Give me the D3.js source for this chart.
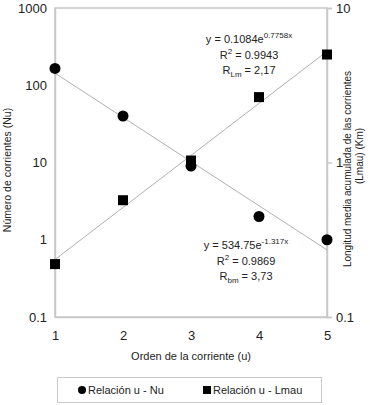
<!DOCTYPE html>
<html>
<head>
<script src="https://cdn.jsdelivr.net/npm/d3@7"></script>
<style type="text/css">
  body{
    margin: 0;
    background: white;
    font-family: 'Liberation Sans', Arial, sans-serif;
  }
  text{ fill: #222; }
</style>
</head>
<body>
<svg id="chart" width="370" height="405"></svg>
<script>

// orden de la corriente
var orders = [1, 2, 3, 4, 5];
// numero de corrientes (eje izquierdo)
var nu = [165, 40, 9, 2, 1];
// longitud media acumulada (eje derecho)
var lmau = [0.22, 0.57, 1.03, 2.65, 5.0];

var leftTicks = [0.1, 1, 10, 100, 1000];
var rightTicks = [0.1, 1, 10];

// ajustes exponenciales mostrados
var fitL = {a: 0.1084, b: 0.7758};
var fitN = {a: 534.75, b: -1.317};

var svg = d3.select("#chart");

var pLeft = 55, pRight = 327, pTop = 8, pBottom = 317;

var x = d3.scaleLinear().domain([1, 5]).range([pLeft, pRight]);
var yL = d3.scaleLog().domain([0.1, 1000]).range([pBottom, pTop]);
var yR = d3.scaleLog().domain([0.1, 10]).range([pBottom, pTop]);

// marco
svg.append("rect")
  .attr("x", pLeft).attr("y", pTop)
  .attr("width", pRight - pLeft).attr("height", pBottom - pTop)
  .attr("fill", "none")
  .attr("stroke", "#c8c8c8")
  .attr("stroke-width", 1.5);

var fmt = function(d) { return d < 1 ? d3.format(".1f")(d) : d3.format("d")(d); };

var axL = svg.append("g")
  .attr("transform", "translate(" + pLeft + ",0)")
  .call(d3.axisLeft(yL).tickValues(leftTicks).tickFormat(fmt).tickSize(0).tickPadding(8));
var axR = svg.append("g")
  .attr("transform", "translate(" + pRight + ",0)")
  .call(d3.axisRight(yR).tickValues(rightTicks).tickFormat(fmt).tickSize(5).tickPadding(4));
var axB = svg.append("g")
  .attr("transform", "translate(0," + pBottom + ")")
  .call(d3.axisBottom(x).tickValues(orders).tickFormat(d3.format("d")).tickSize(0).tickPadding(14));

[axL, axR, axB].forEach(function(a) {
  a.select(".domain").attr("stroke", "#c8c8c8").attr("stroke-width", 1.5);
  a.selectAll(".tick line").attr("stroke", "#c8c8c8").attr("stroke-width", 1.5);
  a.selectAll("text").attr("font-size", 13).attr("font-family", "'Liberation Sans', Arial, sans-serif").attr("fill", "#222");
});

// lineas de tendencia
var trendL = orders.map(function(u) { return [u, fitL.a * Math.exp(fitL.b * u)]; });
var trendN = orders.map(function(u) { return [u, fitN.a * Math.exp(fitN.b * u)]; });

svg.append("path")
  .datum(trendN)
  .attr("fill", "none").attr("stroke", "#b0b0b0").attr("stroke-width", 1)
  .attr("d", d3.line().x(function(d) { return x(d[0]); }).y(function(d) { return yL(d[1]); }));
svg.append("path")
  .datum(trendL)
  .attr("fill", "none").attr("stroke", "#b0b0b0").attr("stroke-width", 1)
  .attr("d", d3.line().x(function(d) { return x(d[0]); }).y(function(d) { return yR(d[1]); }));

// puntos
svg.selectAll(".nu")
  .data(orders)
  .enter().append("circle")
  .attr("class", "nu")
  .attr("cx", function(d) { return x(d); })
  .attr("cy", function(d, i) { return yL(nu[i]); })
  .attr("r", 5.5)
  .attr("fill", "black");

svg.selectAll(".lm")
  .data(orders)
  .enter().append("rect")
  .attr("class", "lm")
  .attr("x", function(d) { return x(d) - 5; })
  .attr("y", function(d, i) { return yR(lmau[i]) - 5; })
  .attr("width", 10).attr("height", 10)
  .attr("fill", "black");

// titulos
svg.append("text")
  .attr("transform", "translate(11,170) rotate(-90)")
  .attr("text-anchor", "middle").attr("font-size", 10.5)
  .text("Número de corrientes (Nu)");

svg.append("text")
  .attr("transform", "translate(351,169) rotate(-90)")
  .attr("text-anchor", "middle").attr("font-size", 10)
  .text("Longitud media acumulada de las corrientes");
svg.append("text")
  .attr("transform", "translate(363,156) rotate(-90)")
  .attr("text-anchor", "middle").attr("font-size", 10)
  .text("(Lmau) (Km)");

svg.append("text")
  .attr("x", 191).attr("y", 360)
  .attr("text-anchor", "middle").attr("font-size", 11)
  .text("Orden de la corriente (u)");

// ecuaciones
function eqBlock(cx, y0, coef, expo, r2, sub, rv) {
  var t1 = svg.append("text").attr("x", cx).attr("y", y0)
    .attr("text-anchor", "middle").attr("font-size", 11);
  t1.append("tspan").text("y = " + coef + "e");
  t1.append("tspan").attr("font-size", 8).attr("dy", -5).text(expo);

  var t2 = svg.append("text").attr("x", cx).attr("y", y0 + 16)
    .attr("text-anchor", "middle").attr("font-size", 11);
  t2.append("tspan").text("R");
  t2.append("tspan").attr("font-size", 8).attr("dy", -5).text("2");
  t2.append("tspan").attr("dy", 5).text(" = " + r2);

  var t3 = svg.append("text").attr("x", cx).attr("y", y0 + 31)
    .attr("text-anchor", "middle").attr("font-size", 11);
  t3.append("tspan").text("R");
  t3.append("tspan").attr("font-size", 8).attr("dy", 3).text(sub);
  t3.append("tspan").attr("dy", -3).text(" = " + rv);
}

eqBlock(249, 43, "0.1084", "0.7758x", "0.9943", "Lm", "2,17");
eqBlock(246, 249, "534.75", "-1.317x", "0.9869", "bm", "3,73");

// leyenda
var leg = svg.append("g");
leg.append("rect")
  .attr("x", 57.5).attr("y", 377.5).attr("width", 264).attr("height", 25)
  .attr("fill", "white").attr("stroke", "#c8c8c8");
leg.append("circle").attr("cx", 82).attr("cy", 390).attr("r", 4).attr("fill", "black");
leg.append("text").attr("x", 88).attr("y", 394).attr("font-size", 11).text("Relación u - Nu");
leg.append("rect").attr("x", 203).attr("y", 386).attr("width", 8).attr("height", 8).attr("fill", "black");
leg.append("text").attr("x", 213).attr("y", 394).attr("font-size", 11).text("Relación u - Lmau");

</script>
</body>
</html>
